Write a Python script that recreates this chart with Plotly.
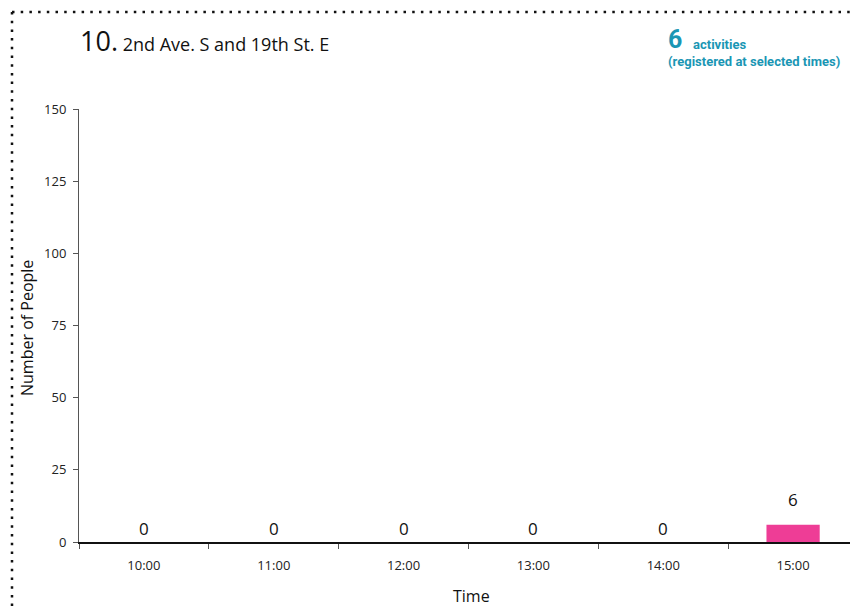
import plotly.graph_objects as go

times = ["10:00", "11:00", "12:00", "13:00", "14:00", "15:00"]
people = [0, 0, 0, 0, 0, 6]
y_ticks = [0, 25, 50, 75, 100, 125, 150]
site_number = "10."
site_name = "2nd Ave. S and 19th St. E"

# page body has an 8px margin; work in reference-window pixels and offset
OFF = 8
WIN_W, WIN_H = 858, 611
W, H = WIN_W - OFF, WIN_H - OFF
PLOT_L, PLOT_R, PLOT_T, PLOT_B = 79, 858, 109, 542
L, R, T, B = PLOT_L - OFF, WIN_W - PLOT_R, PLOT_T - OFF, WIN_H - PLOT_B
FONT = "Open Sans"
TEAL = "#1a96b4"
PINK = "#ee3d96"

fig = go.Figure()
fig.add_trace(go.Bar(
    x=times, y=people, marker=dict(color=PINK, line=dict(width=0)),
    width=0.41, hoverinfo="x+y",
))

for t, v in zip(times, people):
    fig.add_annotation(
        x=t, y=v, xref="x", yref="y", text=str(v), showarrow=False,
        yanchor="bottom", yshift=(12 if v > 0 else 0),
        font=dict(family=FONT, size=17, color="#111"),
    )

pw = W - L - R
ph = H - T - B
def px(x):
    return (x - PLOT_L) / pw
def py(y):
    return (PLOT_B - y) / ph

# dotted frame
fig.add_shape(type="line", xref="paper", yref="paper",
              x0=px(12), x1=px(860), y0=py(12), y1=py(12),
              line=dict(color="#111", width=2.5, dash="2.5px,6.2px"))
fig.add_shape(type="line", xref="paper", yref="paper",
              x0=px(12), x1=px(12), y0=py(12), y1=py(615),
              line=dict(color="#111", width=2.5, dash="2.5px,6.2px"))

# title
fig.add_annotation(
    xref="paper", yref="paper", x=px(78), y=py(61), xanchor="left", yanchor="bottom",
    showarrow=False,
    text=f"<span style='font-size:27px'>{site_number}</span> {site_name}",
    font=dict(family=FONT, size=18, color="#111"),
)

total = sum(people)
fig.add_annotation(
    xref="paper", yref="paper", x=px(666), y=py(40), xanchor="left", yanchor="middle",
    showarrow=False, text=f"<b>{total}</b>",
    font=dict(family="Roboto", size=25, color=TEAL),
)
fig.add_annotation(
    xref="paper", yref="paper", x=px(691), y=py(44), xanchor="left", yanchor="middle",
    showarrow=False, text="<b>activities</b>",
    font=dict(family="Roboto", size=13, color=TEAL),
)
fig.add_annotation(
    xref="paper", yref="paper", x=px(666), y=py(61), xanchor="left", yanchor="middle",
    showarrow=False, text="<b>(registered at selected times)</b>",
    font=dict(family="Roboto", size=13, color=TEAL),
)

# axis titles
fig.add_annotation(
    xref="paper", yref="paper", x=px(27), y=py(328), xanchor="center", yanchor="middle",
    showarrow=False, text="Number of People", textangle=-90,
    font=dict(family=FONT, size=16, color="#111"),
)
fig.add_annotation(
    xref="paper", yref="paper", x=px(471), y=py(596), xanchor="center", yanchor="middle",
    showarrow=False, text="Time",
    font=dict(family=FONT, size=16, color="#111"),
)

fig.update_layout(
    width=W, height=H, margin=dict(l=L, r=R, t=T, b=B, pad=0),
    plot_bgcolor="white", paper_bgcolor="white", showlegend=False,
    font=dict(family=FONT, size=13, color="#111"),
    xaxis=dict(
        type="category", categoryorder="array", categoryarray=times,
        showline=True, linecolor="#111", linewidth=1.5,
        ticks="outside", ticklen=5, tickcolor="#555", tickson="boundaries",
        showgrid=False, zeroline=False, tickfont=dict(size=13, color="#222"),
        ticklabelstandoff=11,
        range=[-0.5, len(times) - 0.5],
    ),
    yaxis=dict(
        range=[0, 150], tickvals=y_ticks, showline=True, linecolor="#555",
        linewidth=1, ticks="outside", ticklen=5, tickcolor="#555",
        showgrid=False, zeroline=False, tickfont=dict(size=13, color="#222"),
        ticklabelstandoff=4,
    ),
)

fig.write_html("out.html")
